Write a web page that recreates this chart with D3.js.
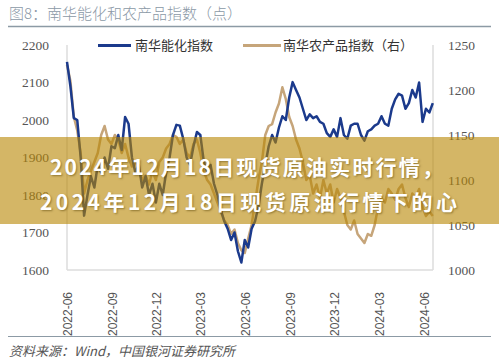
<!DOCTYPE html>
<html>
<head>
<meta charset="utf-8">
<script src="https://cdn.jsdelivr.net/npm/d3@7"></script>
<style>
  body { margin: 0; background: #fff; }
  svg { display: block; }
  .banner-text { text-shadow: 1px 1px 2px rgba(80,60,0,0.5); }
</style>
</head>
<body>
<div id="chart"></div>
<script>
// 南华能化指数 (左轴), 每周一个点, 从 2022-06-01 开始
const energyChem = [
  2155, 2090, 2005, 2000, 1900, 1745, 1800, 1850, 1820, 1880,
  1860, 1900, 1870, 1930, 1925, 1960, 1920, 2008, 1990, 1900,
  1860, 1880, 1820, 1850, 1800, 1830, 1780, 1830, 1800, 1860,
  1900, 1960, 1987, 1985, 1950, 1900, 1880, 1930, 1968, 1960,
  1890, 1860, 1880, 1830, 1800, 1760, 1730, 1710, 1680, 1700,
  1650, 1620, 1680, 1660, 1710, 1730, 1770, 1830, 1880, 1930,
  1960, 1940, 1980, 2010, 2000, 2060, 2101, 2080, 2060, 2030,
  2000, 2015, 2005, 2010, 1995, 1990, 1965, 1955, 1975, 1955,
  2005, 1960, 1950, 1985, 1990, 1990, 1960, 1945, 1970, 1975,
  1985, 1990, 2010, 1990, 1985, 2030, 2055, 2070, 2065, 2030,
  2045, 2080, 2060, 2100, 1995, 2030, 2020, 2045
];
// 南华农产品指数 (右轴)
const agri = [
  1228, 1210, 1170, 1155, 1130, 1085, 1100, 1110, 1120, 1130,
  1150, 1160, 1145, 1140, 1150, 1145, 1130, 1140, 1125, 1115,
  1120, 1110, 1100, 1105, 1095, 1110, 1100, 1120, 1125, 1135,
  1140, 1150, 1148, 1140, 1145, 1130, 1125, 1140, 1145, 1130,
  1110, 1100, 1095, 1085, 1075, 1065, 1055, 1050, 1040, 1045,
  1030, 1022, 1019, 1035, 1050, 1075, 1100, 1120, 1150, 1160,
  1162, 1175, 1185, 1203, 1190, 1170, 1160, 1145, 1135, 1120,
  1100, 1105, 1085, 1095, 1080, 1100, 1085, 1095, 1075, 1090,
  1080, 1065, 1050, 1045, 1055, 1040, 1035, 1030, 1040, 1038,
  1050, 1070, 1080, 1075, 1090, 1085, 1078, 1090, 1095, 1080,
  1070, 1085, 1080, 1090, 1070, 1060, 1065, 1060
];
const leftTicks = [1600, 1700, 1800, 1900, 2000, 2100, 2200];
const rightTicks = [1000, 1050, 1100, 1150, 1200, 1250];
const xTickLabels = ["2022-06", "2022-09", "2022-12", "2023-03", "2023-06", "2023-09", "2023-12", "2024-03", "2024-06"];
const seriesNames = ["南华能化指数", "南华农产品指数（右）"];
const titleText = "图8：南华能化和农产品指数（点）";
const sourceText = "资料来源：Wind，中国银河证券研究所";
const bannerLines = ["2024年12月18日现货原油实时行情，", "2024年12月18日现货原油行情下的心"];

const W = 499, H = 363;
const start = new Date(2022, 5, 1);
const dates = energyChem.map((d, i) => d3.timeDay.offset(start, i * 7));
const parseMonth = d3.timeParse("%Y-%m");
const xTicks = xTickLabels.map(parseMonth);

const svg = d3.select("#chart").append("svg")
  .attr("width", W).attr("height", H);

const x = d3.scaleTime()
  .domain([xTicks[0], xTicks[xTicks.length - 1]])
  .range([67, 424]);
const yL = d3.scaleLinear().domain([1600, 2200]).range([270, 45]);
const yR = d3.scaleLinear().domain([1000, 1250]).range([270, 45]);

const navy = "#1b3a8c", tan = "#c6a57a";

// title + rules
svg.append("text")
  .attr("x", 9).attr("y", 19)
  .style("font-family", "'Noto Sans CJK SC'")
  .style("font-weight", 300)
  .style("font-size", "15px")
  .attr("fill", "#8a98a6")
  .text(titleText);
svg.append("line").attr("x1", 8).attr("x2", 491).attr("y1", 26.5).attr("y2", 26.5)
  .attr("stroke", "#8c9aa5").attr("stroke-width", 1.5);
svg.append("line").attr("x1", 8).attr("x2", 491).attr("y1", 336.5).attr("y2", 336.5)
  .attr("stroke", "#8c9aa5").attr("stroke-width", 1.2);
svg.append("text")
  .attr("x", 9).attr("y", 356)
  .style("font-family", "'Noto Sans CJK SC'")
  .style("font-style", "italic")
  .style("font-size", "13px")
  .attr("fill", "#555")
  .text(sourceText);

// frame
const frame = svg.append("g").attr("stroke", "#dcdcdc").attr("stroke-width", 1.5);
frame.append("line").attr("x1", 67).attr("x2", 67).attr("y1", 45).attr("y2", 270);
frame.append("line").attr("x1", 433).attr("x2", 433).attr("y1", 45).attr("y2", 270);
frame.append("line").attr("x1", 67).attr("x2", 433).attr("y1", 270).attr("y2", 270);

// axes
const axL = svg.append("g").attr("transform", "translate(67,0)")
  .call(d3.axisLeft(yL).tickValues(leftTicks).tickFormat(d3.format("d")).tickSize(0).tickPadding(18));
const axR = svg.append("g").attr("transform", "translate(433,0)")
  .call(d3.axisRight(yR).tickValues(rightTicks).tickFormat(d3.format("d")).tickSize(0).tickPadding(15));
[axL, axR].forEach(a => {
  a.select(".domain").remove();
  a.selectAll("text")
    .style("font-family", "'Liberation Serif'")
    .style("font-size", "13.5px")
    .attr("fill", "#555");
});

const axB = svg.append("g").attr("transform", "translate(0,270)")
  .call(d3.axisBottom(x).tickValues(xTicks).tickFormat(d3.timeFormat("%Y-%m")).tickSize(0));
axB.select(".domain").remove();
axB.selectAll("text")
  .attr("transform", "rotate(-90)")
  .attr("x", -22).attr("y", 0).attr("dy", "0.35em")
  .style("text-anchor", "end")
  .style("font-family", "'Liberation Sans'")
  .style("font-size", "12px")
  .attr("fill", "#555");

// lines
const lineL = d3.line().x((d, i) => x(dates[i])).y(d => yL(d));
const lineR = d3.line().x((d, i) => x(dates[i])).y(d => yR(d));

svg.append("path").datum(agri)
  .attr("fill", "none").attr("stroke", tan).attr("stroke-width", 2.5)
  .attr("stroke-linejoin", "round").attr("d", lineR);
svg.append("path").datum(energyChem)
  .attr("fill", "none").attr("stroke", navy).attr("stroke-width", 2.5)
  .attr("stroke-linejoin", "round").attr("d", lineL);

// legend
const legend = svg.append("g").style("font-family", "'Noto Sans CJK SC'").style("font-size", "13px");
[[98, 131, 135, navy], [243, 281, 283, tan]].forEach((p, i) => {
  legend.append("line").attr("x1", p[0]).attr("x2", p[1]).attr("y1", 45.5).attr("y2", 45.5)
    .attr("stroke", p[3]).attr("stroke-width", 3);
  legend.append("text").attr("x", p[2]).attr("y", 50).attr("fill", "#333").text(seriesNames[i]);
});

// overlay banner (covers part of the chart, as in the source image)
svg.append("rect").attr("x", 0).attr("y", 137).attr("width", W).attr("height", 87)
  .attr("fill", "rgba(183,133,0,0.6)");
const bt = svg.append("g").attr("class", "banner-text")
  .style("font-family", "'Noto Sans CJK SC'")
  .style("font-weight", 700)
  .style("font-size", "21px")
  .attr("fill", "#fff");
bt.append("text").attr("x", 50).attr("y", 175)
  .attr("textLength", 393).attr("lengthAdjust", "spacing").text(bannerLines[0]);
bt.append("text").attr("x", 40).attr("y", 210)
  .attr("textLength", 417).attr("lengthAdjust", "spacing").text(bannerLines[1]);
</script>
</body>
</html>
